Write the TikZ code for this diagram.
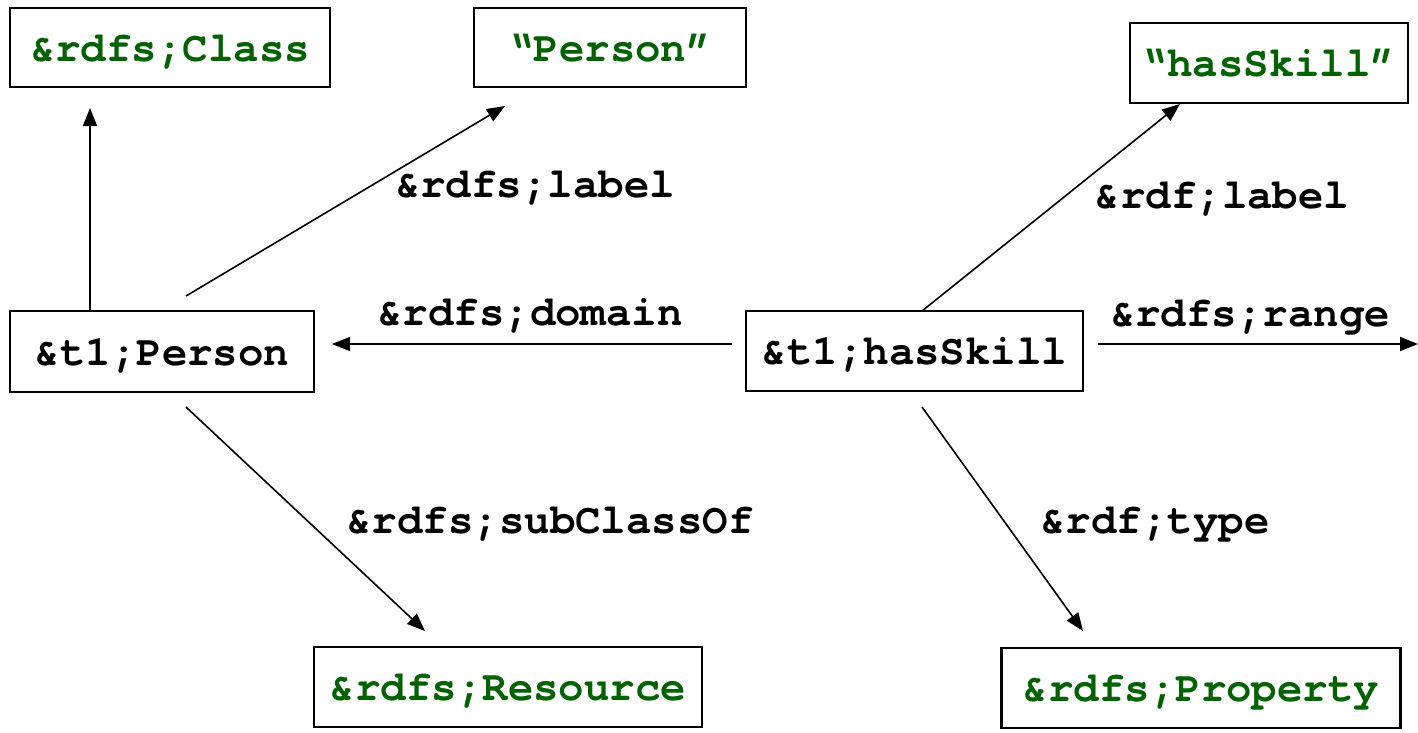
\documentclass[tikz,border=0pt]{standalone}
\usepackage{fontspec}
\setmonofont{texgyrecursor}[Extension=.otf,UprightFont=*-regular,BoldFont=*-bold]
\usetikzlibrary{arrows.meta}
\definecolor{rdfgreen}{RGB}{0,98,0}
\begin{document}
\begin{tikzpicture}[x=1pt,y=-1pt,
  box/.style={draw=black,line width=2.2pt,fill=white,inner sep=0pt,anchor=center,
    text height=33pt,text depth=6pt,
    font=\fontsize{42.4}{50}\selectfont\ttfamily\bfseries},
  lit/.style={box,text=rdfgreen},
  res/.style={box,text=black},
  lbl/.style={font=\fontsize{42.4}{50}\selectfont\ttfamily\bfseries,inner sep=0pt,
    text height=33pt,text depth=6pt},
  arr/.style={line width=1.6pt,-{Triangle[length=18pt,width=14pt]}}]
\useasboundingbox[fill=white] (0,0) rectangle (1418,732);
% boxes
\node[lit,minimum width=320pt,minimum height=79pt] (class) at (170,47.5) {\&rdfs;Class};
\node[lit,minimum width=272pt,minimum height=79pt] (plit) at (610,47.5) {“Person”};
\node[lit,minimum width=278pt,minimum height=80pt] (hlit) at (1269,63) {“hasSkill”};
\node[res,minimum width=304pt,minimum height=81pt] (person) at (162,351.5) {\&t1;Person};
\node[res,minimum width=337pt,minimum height=80pt] (skill) at (914.5,351) {\&t1;hasSkill};
\node[lit,minimum width=388pt,minimum height=80pt] (resource) at (508,687) {\&rdfs;Resource};
\node[lit,minimum width=399pt,minimum height=80pt] (prop) at (1201,688) {\&rdfs;Property};
% connector end points
\coordinate (c1s) at (90,311);   \coordinate (c1e) at (90,108);
\coordinate (c2s) at (186,296);  \coordinate (c2e) at (505,106);
\coordinate (c3s) at (732,344);  \coordinate (c3e) at (332,344);
\coordinate (c4s) at (1098,344); \coordinate (c4e) at (1418,344);
\coordinate (c5s) at (186,407);  \coordinate (c5e) at (425,631);
\coordinate (c6s) at (922,311);  \coordinate (c6e) at (1180,104);
\coordinate (c7s) at (922,407);  \coordinate (c7e) at (1083,631);
\draw[arr] (c1s) -- (c1e);
\draw[arr] (c2s) -- (c2e);
\draw[arr] (c3s) -- (c3e);
\draw[arr] (c4s) -- (c4e);
\draw[arr] (c5s) -- (c5e);
\draw[arr] (c6s) -- (c6e);
\draw[arr] (c7s) -- (c7e);
% labels
\node[lbl] (l1) at (535,184) {\&rdfs;label};
\node[lbl] (l2) at (530,312) {\&rdfs;domain};
\node[lbl] (l3) at (1222,195) {\&rdf;label};
\node[lbl] (l4) at (1250,313) {\&rdfs;range};
\node[lbl] (l5) at (550,520) {\&rdfs;subClassOf};
\node[lbl] (l6) at (1155,520) {\&rdf;type};
\end{tikzpicture}
\end{document}
